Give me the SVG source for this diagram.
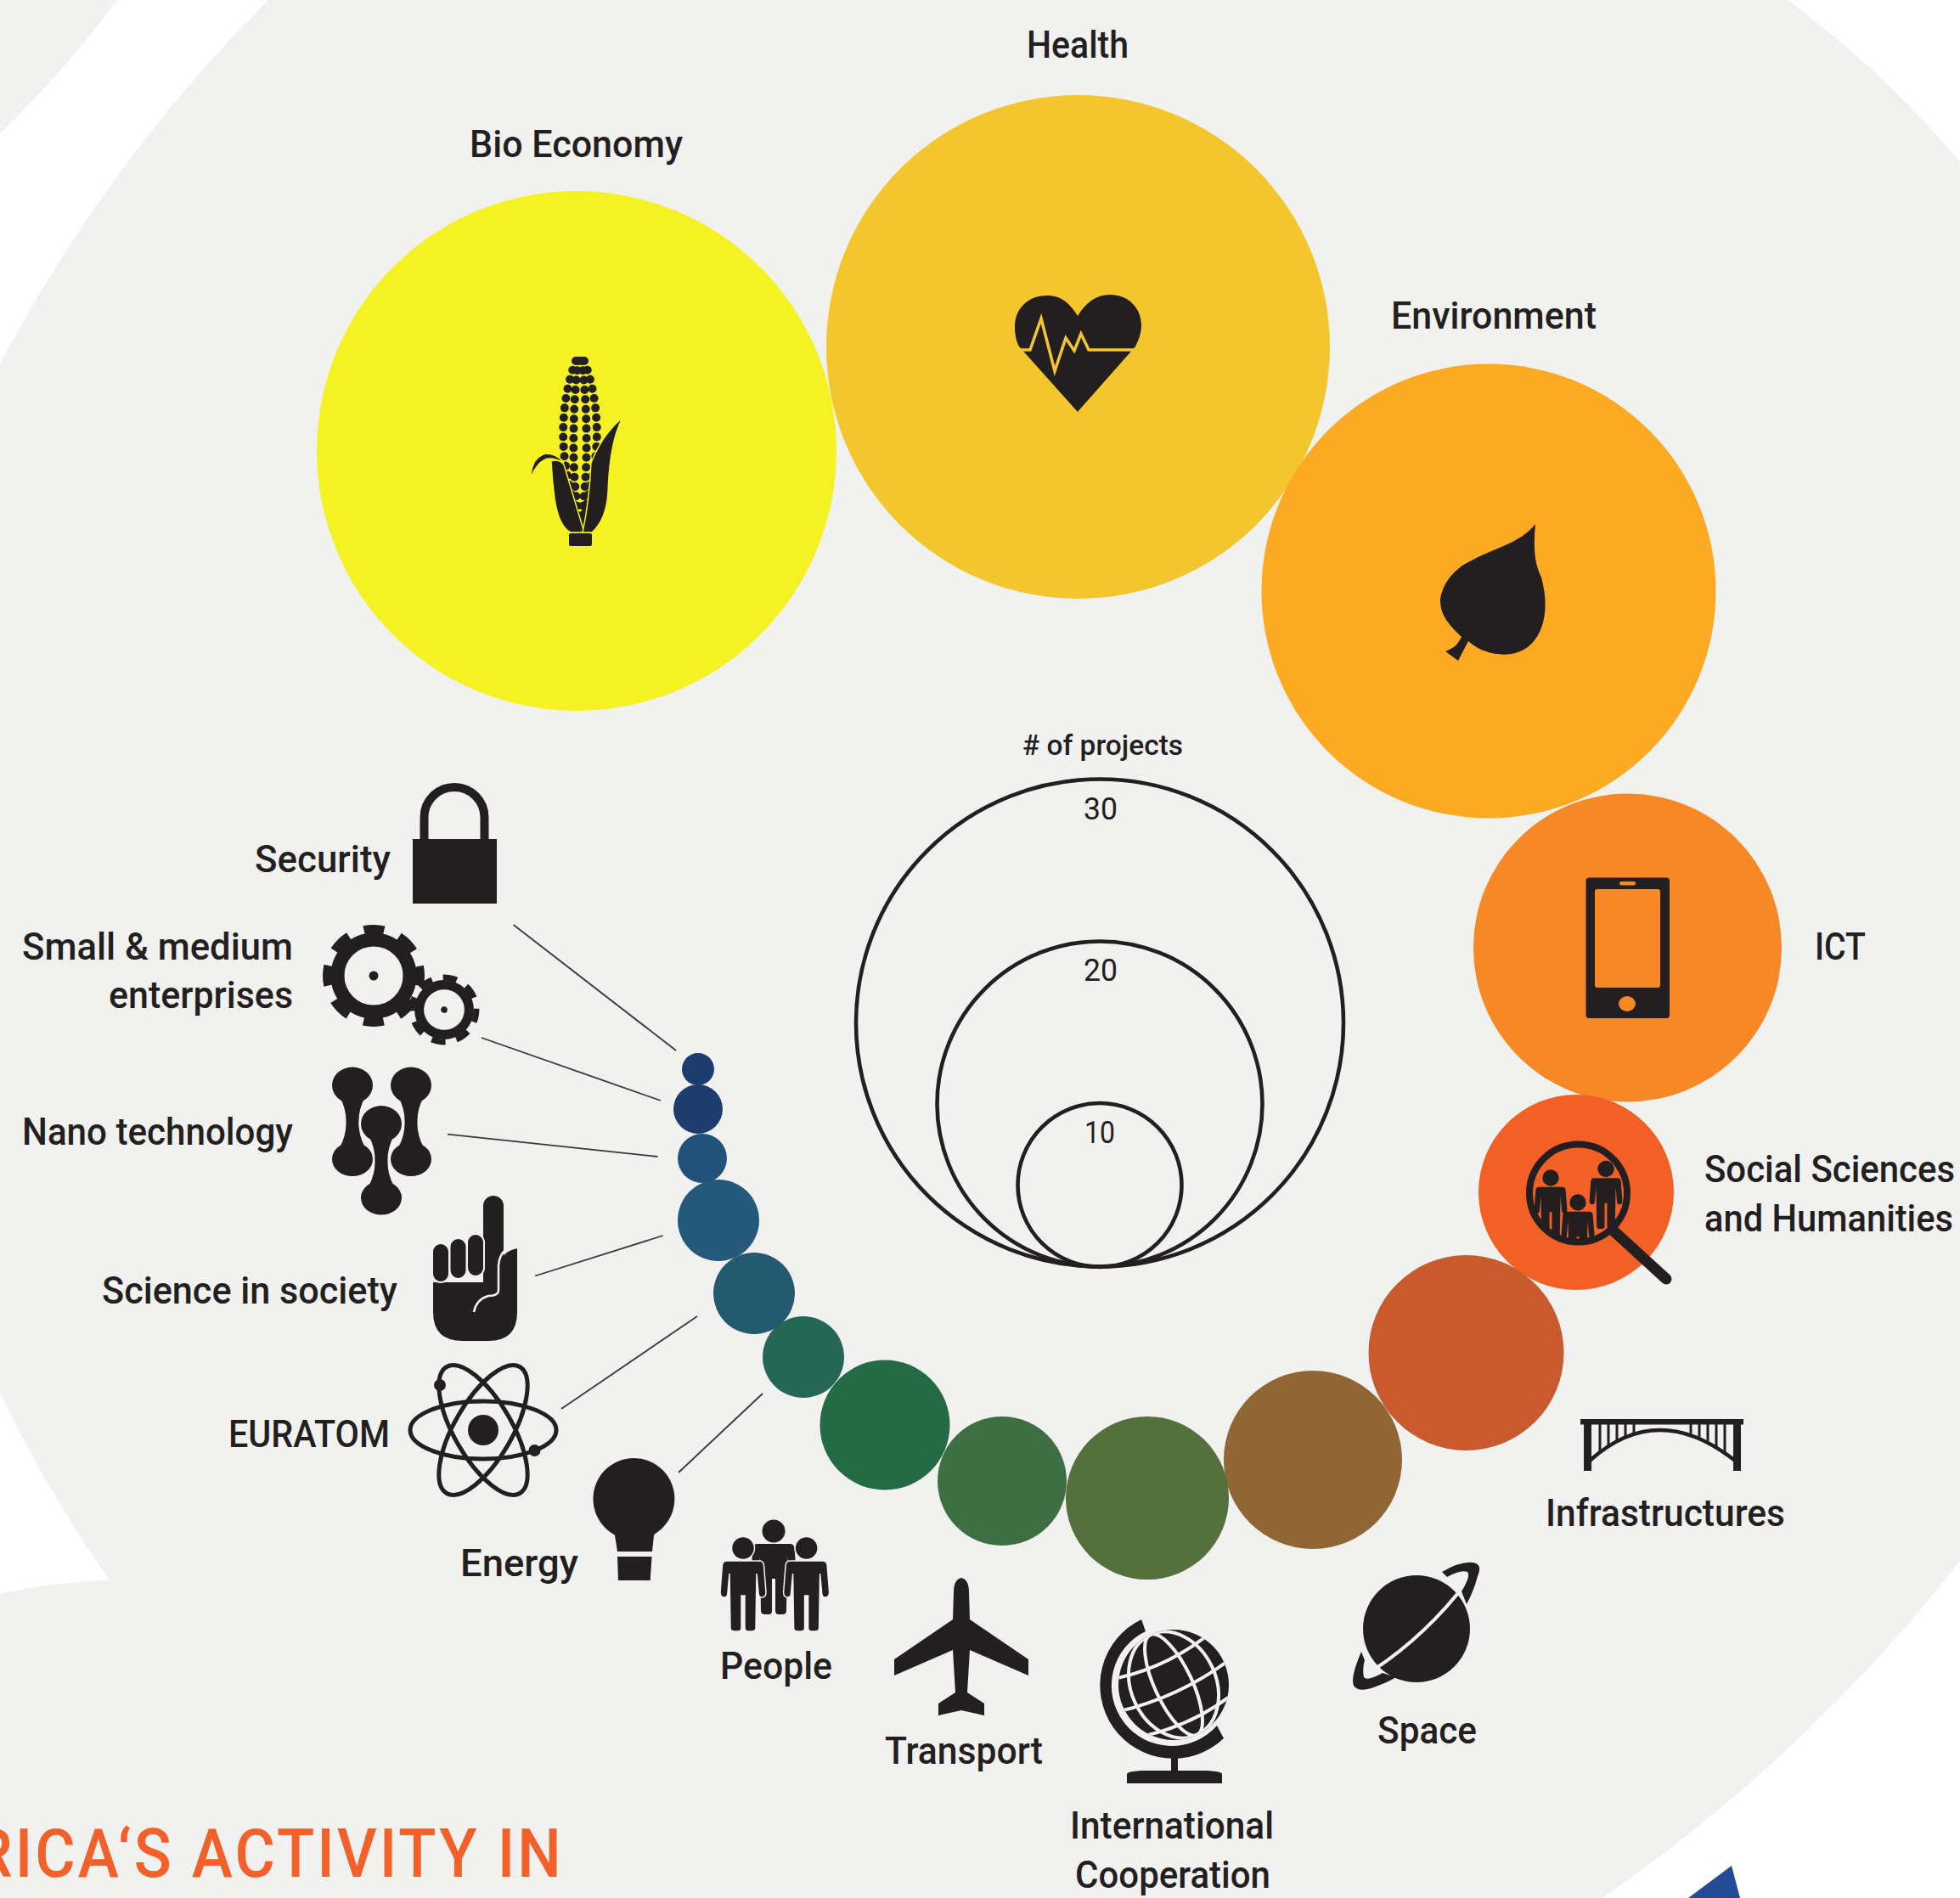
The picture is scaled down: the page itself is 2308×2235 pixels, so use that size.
<svg xmlns="http://www.w3.org/2000/svg" xmlns:xlink="http://www.w3.org/1999/xlink" width="2308" height="2235" viewBox="0 0 2308 2235">
<style>
text{font-family:"Roboto","Liberation Sans",sans-serif;font-weight:500;font-size:45px;fill:#231f20}
.k{fill:#231f20}
.line{stroke:#3a3839;stroke-width:1.8;fill:none}
.leg{fill:none;stroke:#231f20;stroke-width:4.6}
.bgl{fill:none;stroke:#f1f1f0}
.small{font-size:34px}
.num{font-size:36px;font-weight:400}
.title{font-size:79px;fill:#f26129}
</style>
<defs>
<g id="person" class="k"><circle r="13.5"/><path d="M-19,15H19Q24,15 24.5,20L27,52Q27,58 22,58Q18,58 18,52L16,30L15,94Q15,98 10,98H6Q2,98 2,94V56H-2V94Q-2,98-6,98H-10Q-15,98-15,94L-16,30L-18,52Q-18,58-22,58Q-27,58-27,52L-24.5,20Q-24,15-19,15Z"/></g>
<g id="gear"><circle r="55" fill="none" stroke="#231f20" stroke-width="10" stroke-dasharray="24 19.2" stroke-dashoffset="12"/><circle r="42.5" fill="none" stroke="#231f20" stroke-width="16"/><circle r="5.5" fill="#231f20"/></g>
<path id="dumb" d="M-24,-43.5A24,21.5 0 1 1 24,-43.5A24,21.5 0 1 1-24,-43.5ZM-24,43.5A24,20 0 1 1 24,43.5A24,20 0 1 1-24,43.5ZM15,-30Q7,-15 7.5,0Q7,15 15,30H-15Q-7,15-7.5,0Q-7,-15-15,-30Z"/>
<clipPath id="lens"><circle cx="1858.5" cy="1405" r="57"/></clipPath>
<clipPath id="sphere"><circle cx="1382" cy="1984" r="65"/></clipPath>
</defs>
<g id="background">
<rect width="2308" height="2235" fill="#f1f1f0"/>
<path fill="#fff" d="M138,0H316Q130,185 0,428V157Q75,85 138,0Z"/>
<path fill="#fff" d="M0,1640Q55,1755 129,1861Q60,1863 0,1877Z"/>
<path fill="#fff" d="M2105,0Q2220,85 2308,191V0Z"/>
<path fill="#fff" d="M2308,1838Q2132,2064 1887,2235H2308Z"/>
<path fill="#254a96" d="M1988,2235L2039,2197L2049,2235Z"/>
<text class="title" transform="translate(-31,2210) scale(.92,1)" textLength="752">RICA‘S ACTIVITY IN</text>
</g>
<g id="connectors">
<path class="line" d="M604.6,1089L796,1237"/>
<path class="line" d="M567,1222L778,1296"/>
<path class="line" d="M527,1335.6L774.5,1362"/>
<path class="line" d="M630,1502.5L780.6,1455"/>
<path class="line" d="M661,1659L821,1550"/>
<path class="line" d="M799,1734L898,1641"/>
</g>
<g id="legend">
<circle class="leg" cx="1295" cy="1204.5" r="287"/>
<circle class="leg" cx="1295" cy="1300" r="191.5"/>
<circle class="leg" cx="1295" cy="1395.5" r="96.5"/>
<text class="small" x="1204" y="889" textLength="189" lengthAdjust="spacingAndGlyphs"># of projects</text>
<text class="num" x="1276" y="964.5" textLength="40" lengthAdjust="spacingAndGlyphs">30</text>
<text class="num" x="1276" y="1154.5" textLength="40" lengthAdjust="spacingAndGlyphs">20</text>
<text class="num" x="1277" y="1346" textLength="36" lengthAdjust="spacingAndGlyphs">10</text>
</g>
<g id="bio-economy">
<circle cx="679" cy="531" r="306" fill="#f5f223"/>
<g fill="none" stroke="#231f20" stroke-width="10" stroke-linecap="round" stroke-dasharray="0 11.4">
<path d="M678,425C661,470 660,520 668,560L680,618"/>
<path d="M681,425C675,470 674,530 677,570L682,625"/>
<path d="M685,425C691,470 692,530 689,570L684,625"/>
<path d="M688,425C705,470 706,520 698,560L686,618"/>
</g>
<g class="k" stroke="#f5f223" stroke-width="1.5">
<path d="M625,562Q626,538 643,534Q656,534 664,545Q650,538 642,541Q632,546 625,562Z"/>
<path d="M649,543Q658,540 664,547L688,627H672Q658,620 653,587Q650,565 649,543Z"/>
<path d="M733,492Q718,520 716,580Q714,612 697,627H686Q694,590 696,545Q710,510 733,492Z"/>
</g>
<rect class="k" x="670" y="628" width="27" height="15" rx="2"/>
<text x="553" y="184.5" textLength="251" lengthAdjust="spacingAndGlyphs">Bio Economy</text>
</g>
<g id="health">
<circle cx="1269.5" cy="408.5" r="296.5" fill="#f4c62e"/>
<path class="k" d="M1269,372C1258,354 1247,348 1233,348C1210,348 1195,364 1195,385C1195,395 1197,402 1200,408L1269,485L1337,408C1341,400 1344,392 1344,383C1344,362 1328,347 1307,347C1291,347 1279,356 1269,372Z"/>
<path fill="none" stroke="#f4c62e" stroke-width="3.5" d="M1200,412H1213L1226,375L1242,437L1255,398L1265,413L1273,393L1282,412H1337"/>
<text x="1209" y="67.5" textLength="120" lengthAdjust="spacingAndGlyphs">Health</text>
</g>
<g id="environment">
<circle cx="1753" cy="696" r="267.5" fill="#fbaa22"/>
<path class="k" d="M1808,617C1805,650 1808,665 1815,680C1826,720 1815,745 1806,755C1790,775 1762,772 1750,767C1742,765 1735,760 1729,755L1717,778L1702,767C1716,762 1718,755 1721,750C1700,730 1696,720 1696,706C1698,690 1710,670 1733,660C1760,645 1790,640 1808,617Z"/>
<text x="1638" y="386.5" textLength="242" lengthAdjust="spacingAndGlyphs">Environment</text>
</g>
<g id="ict">
<circle cx="1916.5" cy="1116" r="181.5" fill="#f68826"/>
<rect class="k" x="1867.5" y="1033.5" width="98.5" height="165.5" rx="4"/>
<rect x="1878" y="1047" width="77" height="116" rx="3" fill="#f68826"/>
<rect x="1907" y="1038" width="19" height="4.5" rx="2" fill="#f68826"/>
<ellipse cx="1916" cy="1182" rx="10" ry="9" fill="#f68826"/>
<text x="2137" y="1130" textLength="60" lengthAdjust="spacingAndGlyphs">ICT</text>
</g>
<g id="social-sciences">
<circle cx="1856" cy="1404" r="115" fill="#f36026"/>
<g clip-path="url(#lens)">
<use xlink:href="#person" href="#person" transform="translate(1826,1387) scale(.72)"/>
<use xlink:href="#person" href="#person" transform="translate(1858,1416) scale(.72)"/>
<use xlink:href="#person" href="#person" transform="translate(1891,1376.5) scale(.72)"/>
</g>
<circle cx="1858.5" cy="1405" r="57.5" fill="none" stroke="#231f20" stroke-width="8"/>
<path d="M1899.6,1449L1962,1506" fill="none" stroke="#231f20" stroke-width="13" stroke-linecap="round"/>
<text x="2007" y="1392" textLength="295" lengthAdjust="spacingAndGlyphs">Social Sciences</text>
<text x="2007" y="1450" textLength="293" lengthAdjust="spacingAndGlyphs">and Humanities</text>
</g>
<g id="infrastructures">
<circle cx="1726.5" cy="1593" r="115" fill="#c85a2d"/>
<rect class="k" x="1861" y="1671" width="192" height="6.5"/>
<rect class="k" x="1865" y="1675" width="9" height="57"/>
<rect class="k" x="2041" y="1675" width="9" height="57"/>
<path d="M1872,1720Q1952,1648 2043,1720" fill="none" stroke="#231f20" stroke-width="4.5"/>
<path fill="none" stroke="#231f20" stroke-width="3" d="M1884,1677V1710M1894,1677V1703M1904,1677V1697M1914,1677V1692M1924,1677V1688M1991,1677V1688M2001,1677V1692M2011,1677V1697M2021,1677V1703M2031,1677V1710"/>
<text x="1820" y="1796.5" textLength="282" lengthAdjust="spacingAndGlyphs">Infrastructures</text>
</g>
<g id="space">
<circle cx="1546" cy="1719" r="105" fill="#8f6634"/>
<circle class="k" cx="1668" cy="1918" r="63"/>
<path fill="none" stroke="#f1f1f0" stroke-width="4" d="M1618,1966Q1680,1925 1728,1862"/>
<path class="k" d="M1698,1851Q1720,1838 1735,1840Q1746,1842 1740,1856Q1736,1872 1727,1889L1721,1874Q1732,1856 1728,1851Q1720,1848 1704,1857Z"/>
<path class="k" d="M1603,1945Q1590,1975 1594,1985Q1600,1994 1620,1986Q1634,1981 1644,1975L1628,1970Q1610,1980 1606,1975Q1604,1965 1607,1955Z"/>
<text x="1622" y="2053" textLength="117" lengthAdjust="spacingAndGlyphs">Space</text>
</g>
<g id="international-cooperation">
<circle cx="1351" cy="1764" r="96" fill="#54703d"/>
<circle class="k" cx="1382" cy="1984" r="65"/>
<g clip-path="url(#sphere)"><g class="bgl" stroke-width="4" transform="rotate(-25,1382,1984)">
<ellipse cx="1382" cy="1984" rx="22" ry="65"/>
<ellipse cx="1382" cy="1984" rx="50" ry="65"/>
<path d="M1310,1945Q1382,1965 1454,1945M1310,1985Q1382,2000 1454,1985M1310,2020Q1382,2040 1454,2020"/>
</g></g>
<path class="k" d="M1344,1907A86.2,86.2 0 1 0 1441,2047L1433,2032A71,71 0 1 1 1349,1921Z"/>
<rect class="k" x="1379" y="2068" width="8" height="20"/>
<path class="k" d="M1327,2100V2089Q1327,2086 1345,2085H1421Q1439,2086 1439,2089V2100Z"/>
<text x="1260" y="2165" textLength="240" lengthAdjust="spacingAndGlyphs">International</text>
<text x="1266" y="2223" textLength="230" lengthAdjust="spacingAndGlyphs">Cooperation</text>
</g>
<g id="transport">
<circle cx="1180" cy="1744" r="76" fill="#3e6f43"/>
<path class="k" d="M1132,1858Q1141,1860 1141,1875L1142,1907L1211,1954V1973L1142,1943L1139,1993L1159,2006V2020L1132,2014L1105,2020V2006L1125,1993L1122,1943L1053,1973V1954L1122,1907L1123,1875Q1123,1860 1132,1858Z"/>
<text x="1042" y="2077" textLength="186" lengthAdjust="spacingAndGlyphs">Transport</text>
</g>
<g id="people">
<circle cx="1042" cy="1678" r="76.5" fill="#246b45"/>
<use xlink:href="#person" href="#person" transform="translate(911,1803)"/>
<use xlink:href="#person" href="#person" transform="translate(875,1823)" stroke="#f1f1f0" stroke-width="1.5"/>
<use xlink:href="#person" href="#person" transform="translate(949.6,1823)" stroke="#f1f1f0" stroke-width="1.5"/>
<text x="848" y="1976.5" textLength="132" lengthAdjust="spacingAndGlyphs">People</text>
</g>
<g id="energy">
<circle cx="946" cy="1598" r="48" fill="#256755"/>
<circle class="k" cx="746.4" cy="1765" r="48"/>
<path class="k" d="M716,1795L724,1808L727,1827H768L770,1808L778,1795Z"/>
<path class="k" d="M727,1833H767.5L765.7,1861H728Z"/>
<text x="542" y="1856" textLength="139" lengthAdjust="spacingAndGlyphs">Energy</text>
</g>
<g id="euratom">
<circle cx="888" cy="1523" r="48" fill="#235a6f"/>
<g fill="none" stroke="#231f20" stroke-width="5">
<ellipse cx="569" cy="1684" rx="86" ry="34"/>
<ellipse cx="569" cy="1684" rx="86" ry="34" transform="rotate(60,569,1684)"/>
<ellipse cx="569" cy="1684" rx="86" ry="34" transform="rotate(-60,569,1684)"/>
</g>
<circle class="k" cx="569" cy="1684" r="18"/>
<circle class="k" cx="518" cy="1631" r="7"/>
<circle class="k" cx="629.5" cy="1708" r="7"/>
<text x="269" y="1704" textLength="190" lengthAdjust="spacingAndGlyphs">EURATOM</text>
</g>
<g id="science-in-society">
<circle cx="846" cy="1437" r="48" fill="#24597a"/>
<path class="k" d="M510,1510H569V1490H588Q590,1474 609,1470V1545Q609,1579 575,1579H545Q510,1579 510,1545Z"/>
<rect class="k" x="569" y="1408" width="24" height="95" rx="12"/>
<g class="k" stroke="#f1f1f0" stroke-width="2">
<rect x="509" y="1464" width="20" height="46" rx="10"/>
<rect x="529.5" y="1458" width="20" height="48" rx="10"/>
<rect x="550" y="1453" width="20" height="50" rx="10"/>
</g>
<path fill="none" stroke="#f1f1f0" stroke-width="2.5" d="M595,1472Q588,1478 587,1490V1520Q586,1526 575,1526Q561,1530 558,1545"/>
<text x="120" y="1534.5" textLength="348" lengthAdjust="spacingAndGlyphs">Science in society</text>
</g>
<g id="nano-technology">
<circle cx="827" cy="1364" r="29" fill="#22527a"/>
<use xlink:href="#dumb" href="#dumb" class="k" transform="translate(415,1321.5)"/>
<use xlink:href="#dumb" href="#dumb" class="k" transform="translate(484,1321.5)"/>
<use xlink:href="#dumb" href="#dumb" class="k" transform="translate(449,1367)" stroke="#f1f1f0" stroke-width="5" paint-order="stroke"/>
<text x="26" y="1348" textLength="319" lengthAdjust="spacingAndGlyphs">Nano technology</text>
</g>
<g id="small-medium-enterprises">
<circle cx="822" cy="1306" r="29" fill="#1e3d6c"/>
<use xlink:href="#gear" href="#gear" transform="translate(440,1149)"/>
<circle cx="523" cy="1189" r="37" fill="#f1f1f0"/>
<use xlink:href="#gear" href="#gear" transform="translate(523,1189) rotate(10) scale(.69)"/>
<text x="26" y="1129.5" textLength="319" lengthAdjust="spacingAndGlyphs">Small &amp; medium</text>
<text x="128" y="1187" textLength="217" lengthAdjust="spacingAndGlyphs">enterprises</text>
</g>
<g id="security">
<circle cx="822" cy="1259" r="19" fill="#1d3c6e"/>
<rect class="k" x="486" y="988" width="99" height="76"/>
<path d="M499.5,990V962.5A35.5,35.5 0 0 1 570.5,962.5V990" fill="none" stroke="#231f20" stroke-width="10"/>
<text x="300" y="1027" textLength="160" lengthAdjust="spacingAndGlyphs">Security</text>
</g>
</svg>
